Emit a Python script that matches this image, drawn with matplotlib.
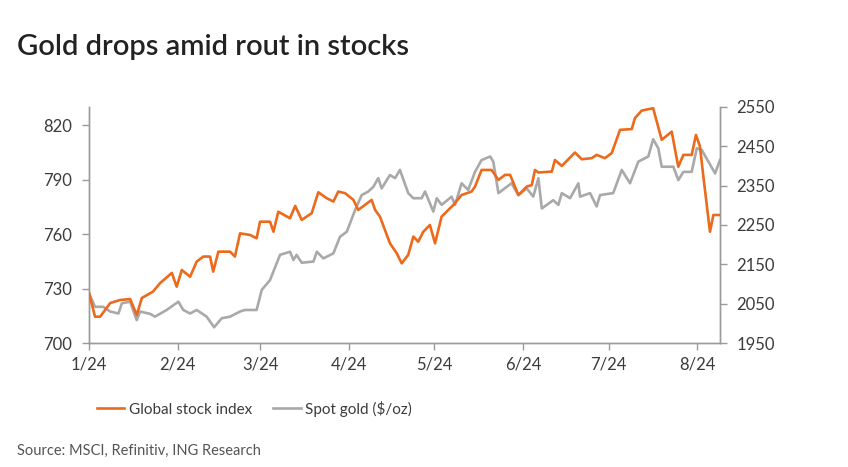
import matplotlib.pyplot as plt
import numpy as np
import pandas as pd

# days since 1 Jan 2024
stock_days = [0, 2.1, 3.9, 7.4, 10.9, 14.4, 16.7, 18.5, 22.4, 24.9, 29, 30.7, 32.5, 35.4, 37.7,
              40, 42.4, 43.5, 45.3, 49.4, 51.1, 52.9, 56.4, 58.7, 59.9, 63.4, 64.6, 66.3, 70.4,
              72.2, 74.5, 78, 80.3, 83.3, 85.6, 87.3, 89.7, 92.6, 94.3, 99, 100.2, 101.9, 105.4,
              107.8, 109.5, 111.8, 113.6, 115.3, 117.1, 119.4, 121.2, 123.5, 127.6, 130.5, 134,
              135.2, 137.5, 141, 143.4, 145.7, 147.5, 150.4, 153.3, 155.1, 156.2, 157.4, 162.1,
              163.2, 165.6, 170.2, 172.6, 176.1, 177.8, 180.7, 183.1, 186, 190.1, 191.2, 193.6,
              197.6, 200.6, 204.1, 206.4, 208.2, 211.1, 212.6, 214, 215.2, 217.5, 218.7, 221]
stock = [727.4, 714.5, 714.5, 722, 723.7, 724.2, 715.4, 724.8, 728.3, 733, 738.6, 731, 740.2,
         736.5, 744.8, 747.6, 747.6, 739.3, 750.3, 750.3, 747.6, 760.4, 759.5, 757.7, 766.8,
         766.8, 761.3, 772.3, 768.7, 775.5, 767.8, 771.5, 783, 779.7, 777.9, 783.4, 782.5,
         778.8, 773.3, 778.8, 773.3, 769.6, 754.9, 749.4, 743.9, 748.5, 758.6, 755.8, 761.3,
         765, 754.9, 769.6, 776, 781.5, 783.4, 786.1, 795.3, 795.3, 789.8, 792.6, 792.6, 781.5,
         786.1, 787, 795.3, 793.9, 794.4, 800.8, 797.5, 804.9, 801.2, 801.8, 803.6, 801.8,
         804.6, 817.4, 817.8, 823.8, 828, 829.3, 811.9, 816.4, 797.1, 803.6, 803.6, 814.6,
         808.2, 791.6, 761.3, 770.5, 770.5]

gold_days = [0, 2.1, 5, 7.4, 10.3, 11.5, 14.4, 16.7, 17.9, 21.4, 23.1, 27.2, 31.3, 33, 35.4,
             37.7, 41.2, 43.8, 46.5, 49.4, 52.9, 54.6, 58.7, 60.5, 63.4, 66.9, 70.4, 71.6, 72.7,
             74.5, 78.6, 79.8, 82.1, 85.6, 87.9, 90.3, 93.2, 95.5, 97.8, 99.6, 101.3, 102.5,
             105.4, 107.2, 108.9, 111.8, 113.6, 116.5, 117.7, 120.6, 121.8, 123.5, 127, 128.2,
             130.5, 132.8, 135.2, 137.5, 140.5, 141.6, 143.4, 148, 150.4, 153.3, 155.6, 157.4,
             158.6, 162.6, 164.4, 165.6, 168.5, 171.4, 172, 175.5, 177.8, 179, 183.6, 186.6,
             189.5, 192.4, 195.9, 197.6, 199.4, 200.6, 204.7, 206.4, 208.2, 211.1, 212.9, 214.6,
             219.3, 221]
gold = [2076, 2042, 2042, 2030, 2025, 2051, 2055, 2008, 2030, 2024, 2017, 2034, 2055, 2034,
        2025, 2034, 2017, 1990, 2013, 2017, 2030, 2034, 2034, 2085, 2110, 2174, 2182, 2161,
        2174, 2154, 2157, 2182, 2165, 2178, 2220, 2233, 2288, 2326, 2335, 2347, 2369, 2343,
        2377, 2369, 2390, 2331, 2318, 2318, 2335, 2284, 2318, 2301, 2322, 2301, 2356, 2339,
        2385, 2415, 2424, 2411, 2331, 2356, 2326, 2343, 2322, 2369, 2292, 2313, 2301, 2331,
        2318, 2356, 2322, 2331, 2297, 2326, 2331, 2390, 2356, 2411, 2424, 2468, 2445, 2398,
        2398, 2364, 2385, 2385, 2445, 2441, 2381, 2415]

month_labels = ["1/24", "2/24", "3/24", "4/24", "5/24", "6/24", "7/24", "8/24"]
month_starts = pd.date_range("2024-01-01", periods=8, freq="MS")
month_pos = [(d - pd.Timestamp("2024-01-01")).days for d in month_starts]

ORANGE = "#ec6a1c"
GREY = "#a9a9a9"
AXC = "#9a9a9a"
TXT = "#3c3c3c"
plt.rcParams["font.family"] = ["Lato", "DejaVu Sans"]

fig = plt.figure(figsize=(8.48, 4.67), dpi=100)
ax = fig.add_axes([0.105, 0.2655, 0.744, 0.5055])
ax2 = ax.twinx()

ax.plot(stock_days, stock, color=ORANGE, lw=1.9, zorder=3, label="Global stock index")
ax2.plot(gold_days, gold, color=GREY, lw=1.9, zorder=2, label="Spot gold ($/oz)")
ax.set_zorder(ax2.get_zorder() + 1)
ax.patch.set_visible(False)

ax.set_xlim(0, 221)
ax.set_ylim(700, 830)
ax.set_yticks([700, 730, 760, 790, 820])
ax2.set_ylim(1950, 2550)
ax2.set_yticks([1950, 2050, 2150, 2250, 2350, 2450, 2550])
ax.set_xticks(month_pos)
ax.set_xticklabels(month_labels)

for a in (ax, ax2):
    a.spines["top"].set_visible(False)
    for s in ("left", "right", "bottom"):
        a.spines[s].set_color(AXC)
        a.spines[s].set_linewidth(1.0)
    a.tick_params(colors=AXC, labelcolor=TXT, labelsize=12, length=5, width=1.0)
ax.tick_params(axis="x", pad=5)
ax.tick_params(axis="y", pad=7)
ax2.tick_params(axis="y", pad=7)

fig.text(0.02, 0.90, "Gold drops amid rout in stocks", fontsize=21, color="#222222",
         va="center", ha="left", fontweight="semibold")

h1, l1 = ax.get_legend_handles_labels()
h2, l2 = ax2.get_legend_handles_labels()
fig.legend(h1 + h2, l1 + l2, loc="center", bbox_to_anchor=(0.30, 0.125), ncol=2,
           frameon=False, fontsize=11, handlelength=1.8, handletextpad=0.3,
           columnspacing=1.4, labelcolor=TXT)

fig.text(0.02, 0.035, "Source: MSCI, Refinitiv, ING Research", fontsize=10.5, color="#555555",
         va="center", ha="left")

fig.savefig("out.png", dpi=100)
